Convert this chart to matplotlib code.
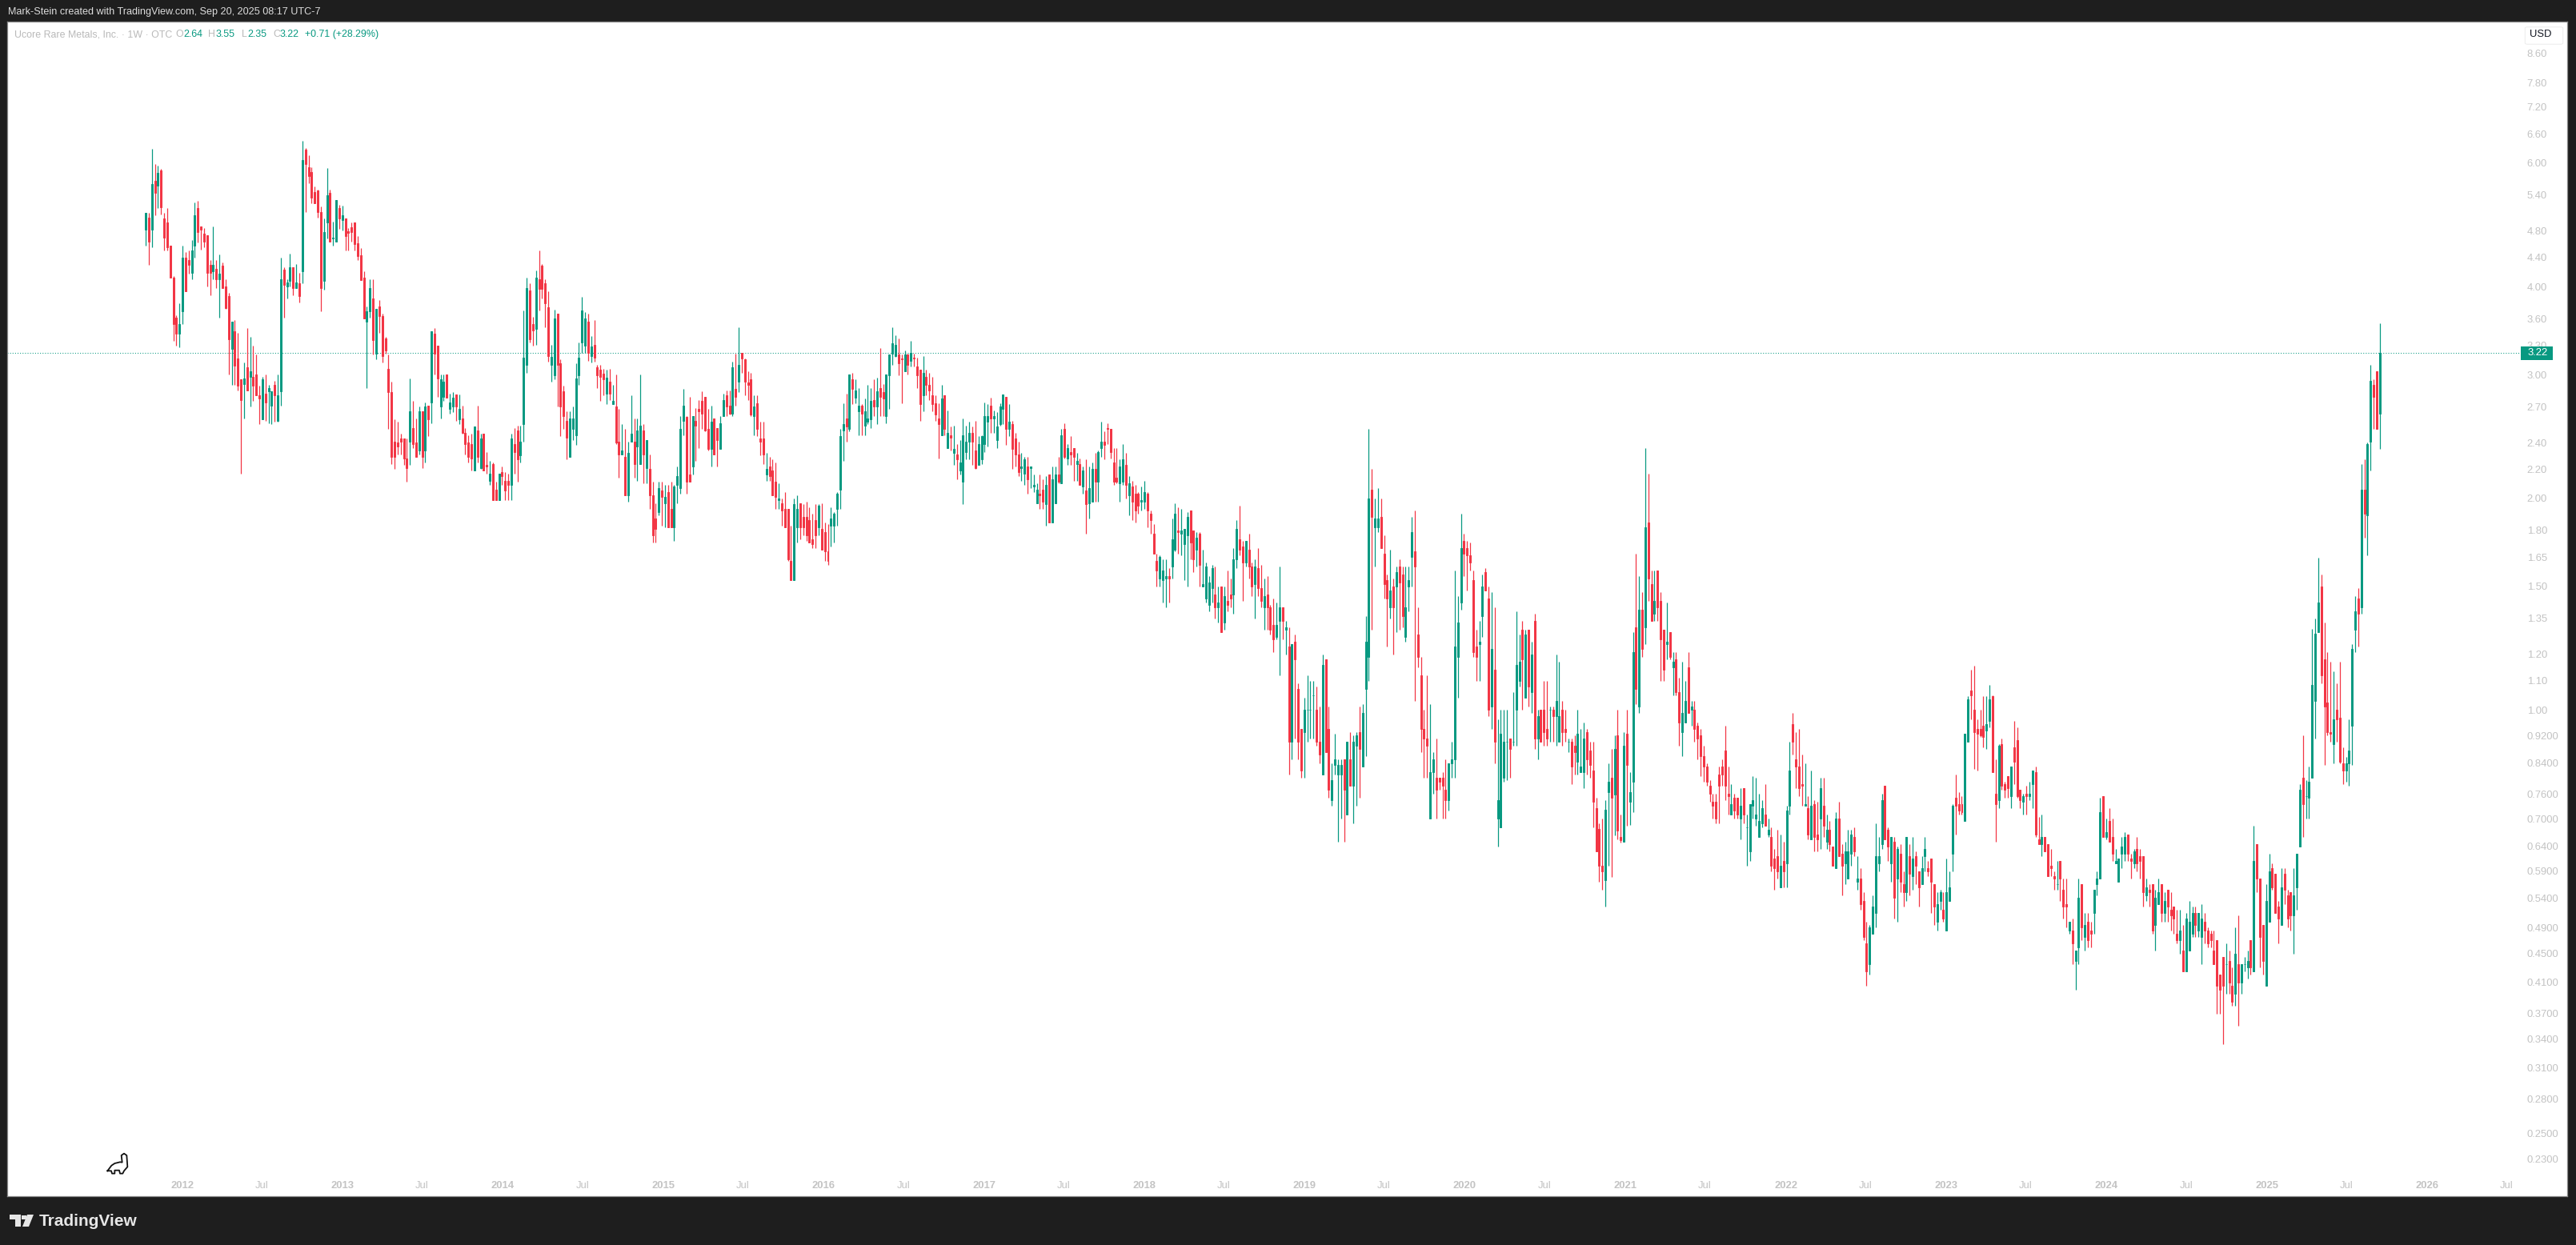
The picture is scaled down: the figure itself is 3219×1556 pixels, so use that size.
import numpy as np
import matplotlib
matplotlib.use("Agg")
import matplotlib.pyplot as plt
from matplotlib.patches import Rectangle, FancyBboxPatch, Polygon
from matplotlib.lines import Line2D
import datetime as dt

# Weekly candles, 13 to a block (quarter), oldest first
o0=[4.82,5.02,4.82,5.66,5.57,5.86,5.00,4.94,4.57,4.12,3.61,3.43,3.69]
h0=[5.09,5.09,6.29,5.97,5.94,5.88,5.09,5.18,4.57,4.14,3.64,3.79,4.58]
l0=[4.57,4.30,4.55,5.05,5.18,5.07,4.50,4.50,4.12,3.35,3.30,3.28,3.54]
c0=[5.09,4.63,5.60,5.44,5.80,5.19,4.70,4.55,4.12,3.54,3.43,3.54,4.40]
o1=[4.40,4.36,4.19,4.57,5.18,4.87,4.76,4.74,4.30,4.21,4.24,4.10,4.28]
h1=[4.48,4.50,4.66,5.27,5.30,4.87,4.85,4.74,4.36,4.87,4.36,4.44,4.33]
l1=[3.94,4.17,4.10,4.40,4.62,4.52,4.55,4.00,3.89,4.10,3.98,3.61,3.98]
c1=[3.94,4.30,4.50,5.05,4.79,4.82,4.64,4.19,4.19,4.30,4.10,4.17,3.98]
o2=[4.00,3.88,3.26,3.46,3.16,2.95,2.91,3.07,2.98,2.98,3.00,2.80,2.59]
h2=[4.10,3.92,3.57,3.59,3.44,2.95,3.12,3.49,3.39,3.30,3.20,2.89,2.98]
l2=[3.72,3.00,2.90,2.90,2.85,2.17,2.60,2.85,2.70,2.75,2.80,2.55,2.59]
c2=[3.73,3.37,3.57,3.09,2.89,2.76,2.96,2.85,3.03,2.89,2.80,2.77,2.95]
o3=[2.82,2.84,2.71,2.90,2.58,2.84,4.23,4.00,4.08,4.26,3.98,4.04,4.21]
h3=[3.00,2.90,2.84,2.94,3.00,4.40,4.26,4.10,4.46,4.26,4.31,4.19,6.45]
l3=[2.58,2.56,2.55,2.57,2.57,2.71,3.61,3.85,4.00,3.89,3.98,3.80,4.05]
c3=[2.74,2.87,2.84,2.80,2.80,4.10,4.02,4.06,4.26,3.98,4.06,3.88,6.06]
o4=[6.27,5.91,5.83,5.45,5.48,5.11,4.08,4.94,5.44,4.69,4.63,5.18,4.97]
h4=[6.30,6.15,5.91,5.55,5.49,5.20,5.00,5.90,5.50,4.95,5.31,5.23,5.22]
l4=[5.11,5.62,5.26,5.26,5.02,3.69,3.96,4.68,4.63,4.57,4.63,4.84,4.81]
c4=[5.98,5.75,5.36,5.26,5.11,3.98,4.79,5.40,4.63,4.70,5.31,5.00,5.06]
o5=[5.00,4.80,4.86,4.94,4.61,4.43,4.12,3.57,3.69,3.85,3.21,3.75,3.63]
h5=[5.00,4.85,4.94,4.94,4.72,4.54,4.21,3.75,4.10,4.10,3.72,3.83,3.66]
l5=[4.50,4.50,4.64,4.50,4.37,4.09,3.60,2.87,3.61,3.20,3.15,3.44,3.12]
c5=[4.72,4.77,4.79,4.60,4.42,4.09,3.60,3.69,3.98,3.36,3.72,3.63,3.19]
o6=[3.38,3.06,2.83,2.41,2.40,2.43,2.43,2.28,2.41,2.52,2.40,2.34,2.66]
h6=[3.39,3.20,2.93,2.59,2.57,2.47,2.43,2.43,2.96,2.75,2.60,2.70,2.66]
l6=[3.21,2.51,2.24,2.20,2.31,2.31,2.23,2.11,2.23,2.36,2.29,2.31,2.21]
c6=[3.25,2.83,2.29,2.29,2.37,2.41,2.28,2.21,2.66,2.39,2.29,2.66,2.29]
o7=[2.34,2.71,2.74,3.43,3.30,2.70,2.79,3.00,2.68,2.70,2.81,2.59,2.60]
h7=[2.74,2.71,3.46,3.49,3.30,3.00,3.00,3.00,2.82,2.83,2.81,2.81,2.71]
l7=[2.25,2.45,2.56,3.00,2.79,2.60,2.75,2.78,2.64,2.65,2.58,2.55,2.47]
c7=[2.70,2.59,3.46,3.21,2.96,2.95,2.93,2.78,2.74,2.78,2.70,2.68,2.48]
o8=[2.48,2.40,2.39,2.19,2.50,2.21,2.47,2.23,2.12,2.24,2.06,1.99,2.18]
h8=[2.52,2.46,2.47,2.53,2.71,2.47,2.47,2.33,2.26,2.25,2.11,2.17,2.22]
l8=[2.31,2.25,2.19,2.19,2.25,2.20,2.19,2.17,2.09,1.99,1.99,1.99,2.09]
c8=[2.39,2.29,2.28,2.53,2.29,2.43,2.19,2.22,2.17,1.99,1.99,2.17,2.15]
o9=[2.12,2.12,2.09,2.39,2.50,2.30,2.55,3.10,3.95,3.54,3.48,4.10,4.29]
h9=[2.18,2.17,2.47,2.52,2.54,2.54,3.70,4.12,4.05,3.62,4.22,4.50,4.31]
l9=[1.99,1.99,1.99,2.17,2.11,2.25,2.41,3.02,3.33,3.30,3.31,3.70,3.85]
c9=[2.05,2.09,2.43,2.33,2.27,2.41,3.17,3.98,3.37,3.47,4.12,3.97,3.97]
o10=[4.04,3.74,3.10,2.99,3.66,3.11,2.84,2.58,2.29,2.51,2.46,2.99,3.33]
h10=[4.10,3.94,3.31,3.71,3.66,3.15,2.89,2.66,2.66,2.70,3.11,3.33,3.87]
l10=[3.50,3.13,2.93,2.95,2.70,2.45,2.51,2.27,2.29,2.42,2.38,2.90,3.22]
c10=[3.79,3.19,3.18,3.60,3.10,2.70,2.62,2.44,2.60,2.60,2.96,3.17,3.70]
o11=[3.30,3.57,3.19,3.31,3.07,3.05,3.01,2.82,2.93,2.72,2.70,2.41,2.31]
h11=[3.68,3.66,3.40,3.585,3.10,3.10,3.06,3.05,3.06,2.90,3.00,2.68,2.55]
l11=[3.22,3.14,3.12,3.13,2.87,2.75,2.80,2.72,2.76,2.72,2.39,2.14,2.31]
c11=[3.60,3.22,3.29,3.17,2.99,2.98,2.95,2.97,2.82,2.75,2.40,2.31,2.34]
o12=[2.29,2.02,2.41,2.41,2.37,2.24,2.50,2.21,2.20,2.02,1.87,1.91,2.05]
h12=[2.51,2.41,2.80,2.60,2.60,3.00,2.55,2.42,2.31,2.11,1.97,2.11,2.11]
l12=[2.02,1.98,2.41,2.14,2.12,2.24,2.10,2.10,1.93,1.73,1.73,1.89,1.83]
c12=[2.02,2.32,2.47,2.24,2.50,2.54,2.31,2.42,2.02,1.77,1.81,2.07,2.01]
o13=[1.97,2.04,1.93,1.82,2.09,2.07,2.58,2.61,2.16,2.22,2.58,2.68,2.75]
h13=[2.09,2.09,2.11,2.09,2.22,2.62,2.86,2.62,2.79,2.62,2.69,2.76,2.84]
l13=[1.82,1.82,1.82,1.74,1.97,2.03,2.46,2.03,2.11,2.16,2.26,2.36,2.51]
c13=[2.01,1.82,1.82,2.08,2.15,2.51,2.71,2.11,2.11,2.62,2.54,2.66,2.64]
o14=[2.79,2.51,2.35,2.60,2.52,2.35,2.62,2.80,2.71,2.64,2.86,2.93,3.22]
h14=[2.79,2.68,2.71,2.60,2.52,2.62,2.82,2.85,2.85,3.13,3.21,3.50,3.22]
l14=[2.49,2.34,2.22,2.31,2.22,2.35,2.62,2.62,2.63,2.62,2.71,2.83,3.02]
c14=[2.50,2.35,2.57,2.31,2.42,2.56,2.76,2.70,2.64,3.07,2.79,3.10,3.16]
o15=[3.15,2.92,2.95,2.62,2.73,2.43,2.43,2.16,2.22,2.19,2.11,1.99,1.97]
h15=[3.16,3.03,3.02,2.80,2.80,2.57,2.57,2.32,2.29,2.27,2.25,2.10,2.00]
l15=[2.80,2.76,2.62,2.46,2.45,2.30,2.24,2.12,2.12,2.02,1.93,1.93,1.83]
c15=[2.93,2.90,2.63,2.70,2.51,2.41,2.31,2.20,2.15,2.02,2.01,2.00,1.92]
o16=[1.93,1.93,1.63,1.53,1.82,1.97,1.88,1.88,1.86,1.75,1.86,1.82,1.81]
h16=[2.04,1.93,1.83,2.00,2.02,1.97,1.96,1.98,1.94,1.90,1.96,1.96,1.97]
l16=[1.82,1.63,1.53,1.53,1.73,1.75,1.77,1.74,1.73,1.70,1.70,1.77,1.69]
c16=[1.82,1.64,1.53,1.96,1.93,1.82,1.82,1.77,1.73,1.72,1.77,1.95,1.69]
o17=[1.79,1.68,1.83,1.83,1.93,2.06,2.50,2.60,2.51,2.95,2.78,2.66,2.71]
h17=[1.85,1.84,1.94,1.91,2.04,2.51,2.73,2.82,3.00,3.02,2.95,2.87,2.72]
l17=[1.63,1.61,1.71,1.73,1.83,1.93,2.26,2.41,2.49,2.72,2.73,2.46,2.46]
c17=[1.68,1.63,1.87,1.90,2.03,2.45,2.55,2.53,3.00,2.86,2.85,2.71,2.64]
o18=[2.54,2.57,2.59,2.76,2.70,2.87,2.83,2.62,2.99,3.21,3.19,3.20,3.16]
h18=[2.77,2.90,2.87,2.95,2.97,3.27,2.91,3.00,3.20,3.50,3.41,3.38,3.20]
l18=[2.46,2.55,2.52,2.62,2.55,2.62,2.62,2.56,2.68,3.10,3.18,2.99,2.73]
c18=[2.66,2.60,2.75,2.70,2.84,2.79,2.77,3.00,3.20,3.32,3.31,3.11,3.15]
o19=[3.03,3.20,3.14,3.17,3.08,3.05,2.80,2.98,2.90,2.80,2.73,2.60,2.46]
h19=[3.25,3.21,3.35,3.21,3.17,3.05,3.19,3.05,3.02,2.98,2.80,2.73,2.90]
l19=[3.03,3.00,3.08,3.08,2.87,2.58,2.66,2.80,2.76,2.66,2.58,2.28,2.46]
c19=[3.20,3.10,3.22,3.16,2.99,2.72,3.02,2.90,2.85,2.72,2.63,2.55,2.77]
o20=[2.80,2.36,2.46,2.32,2.31,2.19,2.11,2.33,2.41,2.48,2.34,2.23,2.27]
h20=[2.80,2.67,2.53,2.54,2.39,2.42,2.60,2.54,2.57,2.53,2.58,2.45,2.46]
l20=[2.46,2.36,2.34,2.23,2.13,2.16,1.96,2.27,2.27,2.23,2.20,2.23,2.24]
c20=[2.51,2.48,2.44,2.35,2.27,2.25,2.46,2.41,2.48,2.41,2.21,2.39,2.45]
o21=[2.39,2.57,2.71,2.60,2.42,2.55,2.68,2.79,2.51,2.55,2.43,2.31,2.21]
h21=[2.74,2.72,2.78,2.67,2.65,2.73,2.81,2.79,2.72,2.58,2.48,2.41,2.32]
l21=[2.33,2.37,2.48,2.48,2.36,2.54,2.55,2.38,2.45,2.20,2.22,2.15,2.12]
c21=[2.62,2.62,2.60,2.62,2.53,2.70,2.81,2.51,2.57,2.35,2.31,2.18,2.22]
o22=[2.17,2.22,2.21,2.08,1.97,2.03,2.06,1.96,2.16,1.85,1.97,2.16,2.10]
h22=[2.29,2.29,2.22,2.16,2.10,2.16,2.13,2.15,2.16,2.22,2.22,2.29,2.51]
l22=[2.09,2.03,2.07,2.04,1.97,1.93,1.93,1.83,1.85,1.85,1.97,2.10,2.10]
c22=[2.27,2.13,2.22,2.09,2.06,2.02,1.98,2.09,1.85,2.13,2.16,2.11,2.46]
o23=[2.51,2.28,2.33,2.36,2.24,2.24,2.08,2.05,1.97,1.98,2.20,2.11,2.36]
h23=[2.56,2.39,2.45,2.36,2.32,2.28,2.22,2.27,2.22,2.25,2.32,2.34,2.57]
l23=[2.28,2.23,2.23,2.12,2.12,2.09,2.03,1.78,1.87,1.98,1.98,1.98,2.29]
c23=[2.29,2.36,2.31,2.29,2.26,2.09,2.19,1.96,2.07,2.20,2.11,2.33,2.41]
o24=[2.41,2.52,2.51,2.25,2.14,2.10,2.11,2.23,2.02,2.08,2.03,2.03,1.98]
h24=[2.49,2.56,2.51,2.36,2.36,2.27,2.39,2.32,2.15,2.12,2.09,2.04,2.08]
l24=[2.27,2.39,2.28,2.09,2.10,1.98,2.09,2.00,1.89,1.86,1.85,1.90,1.92]
c24=[2.38,2.51,2.33,2.11,2.11,2.22,2.27,2.09,2.10,1.98,1.92,1.95,1.99]
o25=[1.98,2.03,1.90,1.78,1.63,1.54,1.53,1.54,1.55,1.60,1.69,1.80,1.78]
h25=[2.12,2.04,1.92,1.84,1.67,1.66,1.64,1.64,1.59,1.87,1.97,1.94,1.93]
l25=[1.93,1.82,1.78,1.67,1.50,1.50,1.42,1.40,1.42,1.54,1.68,1.67,1.66]
c25=[2.04,1.92,1.86,1.67,1.58,1.65,1.58,1.55,1.54,1.75,1.90,1.79,1.80]
o26=[1.72,1.77,1.92,1.80,1.69,1.78,1.50,1.44,1.41,1.49,1.46,1.40,1.50]
h26=[1.81,1.91,1.92,1.80,1.79,1.79,1.69,1.62,1.55,1.61,1.60,1.50,1.50]
l26=[1.53,1.50,1.64,1.57,1.60,1.50,1.50,1.42,1.38,1.42,1.35,1.33,1.29]
c26=[1.81,1.88,1.73,1.64,1.76,1.61,1.51,1.60,1.52,1.59,1.40,1.42,1.29]
o27=[1.33,1.43,1.46,1.46,1.64,1.75,1.71,1.62,1.69,1.60,1.51,1.59,1.49]
h27=[1.50,1.58,1.54,1.70,1.86,1.95,1.74,1.74,1.78,1.62,1.64,1.70,1.61]
l27=[1.30,1.38,1.40,1.37,1.59,1.66,1.43,1.60,1.54,1.45,1.35,1.45,1.40]
c27=[1.45,1.41,1.44,1.64,1.81,1.69,1.62,1.74,1.60,1.50,1.60,1.49,1.43]
o28=[1.40,1.46,1.40,1.32,1.27,1.34,1.40,1.30,1.23,0.90,1.25,1.07,0.94]
h28=[1.54,1.55,1.41,1.44,1.42,1.60,1.40,1.34,1.31,1.24,1.28,1.09,0.94]
l28=[1.30,1.30,1.28,1.21,1.26,1.12,1.26,1.20,0.81,0.85,0.91,0.85,0.80]
c28=[1.45,1.40,1.30,1.26,1.32,1.40,1.34,1.31,0.90,1.24,1.18,0.90,0.82]
o29=[0.93,1.00,1.00,1.05,1.00,0.90,0.81,1.18,0.94,0.745,0.835,0.81,0.81]
h29=[1.04,1.12,1.10,1.10,1.08,1.01,1.20,1.18,1.01,0.84,0.925,0.85,0.85]
l29=[0.80,0.90,0.91,0.91,0.89,0.84,0.81,0.87,0.75,0.73,0.81,0.65,0.70]
c29=[1.00,1.00,1.00,1.05,0.90,0.865,1.16,0.87,0.77,0.795,0.85,0.835,0.835]
o30=[0.85,0.71,0.85,0.78,0.89,0.93,0.83,1.07,1.19,2.06,1.82,1.82,1.88]
h30=[0.85,0.90,0.93,0.92,0.93,1.01,1.02,1.36,2.51,2.20,2.00,2.07,2.00]
l30=[0.65,0.71,0.78,0.69,0.73,0.75,0.83,0.86,1.10,1.30,1.60,1.79,1.70]
c30=[0.77,0.90,0.78,0.90,0.92,0.88,0.99,1.25,2.00,1.88,1.87,1.87,1.70]
o31=[1.67,1.53,1.40,1.50,1.50,1.60,1.56,1.27,1.50,1.65,1.68,1.28,1.12]
h31=[1.77,1.56,1.69,1.54,1.60,1.64,1.60,1.60,1.60,1.88,1.92,1.40,1.19]
l31=[1.44,1.23,1.35,1.20,1.29,1.30,1.31,1.25,1.38,1.50,1.03,1.15,0.87]
c31=[1.51,1.44,1.48,1.40,1.57,1.52,1.36,1.40,1.53,1.79,1.60,1.19,0.94]
o32=[0.94,0.91,0.70,0.815,0.80,0.80,0.80,0.77,0.745,0.84,0.85,1.19,1.42]
h32=[1.00,1.12,1.02,0.87,0.91,0.80,0.815,0.85,0.84,0.90,1.58,1.45,1.90]
l32=[0.80,0.80,0.70,0.76,0.70,0.77,0.70,0.70,0.72,0.80,0.80,1.04,1.39]
c32=[0.91,0.89,0.815,0.85,0.77,0.79,0.78,0.745,0.84,0.85,1.23,1.33,1.70]
o33=[1.74,1.70,1.66,1.53,1.23,1.24,1.36,1.57,1.44,1.01,1.14,0.70,0.68]
h33=[1.78,1.74,1.73,1.58,1.30,1.34,1.56,1.59,1.50,1.47,1.40,0.97,1.00]
l33=[1.55,1.48,1.58,1.19,1.10,1.10,1.27,1.48,0.98,0.94,0.84,0.64,0.68]
c33=[1.67,1.66,1.62,1.21,1.19,1.25,1.50,1.48,1.00,1.22,0.90,0.745,0.925]
o34=[0.80,0.90,0.91,0.90,1.00,1.10,1.30,1.04,1.30,1.06,1.34,0.91,1.00]
h34=[1.00,1.00,0.91,1.06,1.38,1.28,1.34,1.30,1.30,1.25,1.37,1.00,1.00]
l34=[0.79,0.795,0.80,0.89,0.89,1.08,1.00,1.04,1.01,0.99,0.88,0.85,0.90]
c34=[0.90,0.90,0.88,0.90,1.16,1.17,1.18,1.28,1.08,1.20,0.91,0.98,0.90]
o35=[1.00,0.94,1.00,1.00,0.98,0.90,1.00,0.94,0.90,0.90,0.89,0.845,0.815]
h35=[1.10,1.10,1.01,1.01,1.20,1.17,1.03,1.00,0.91,0.91,0.92,1.00,0.94]
l35=[0.89,0.89,0.90,0.90,0.89,0.90,0.89,0.90,0.87,0.785,0.81,0.81,0.815]
c35=[0.93,0.91,1.00,0.98,1.03,0.98,0.93,0.93,0.90,0.83,0.87,0.925,0.83]
o36=[0.815,0.93,0.875,0.82,0.725,0.677,0.60,0.572,0.765,0.80,0.758,0.92,0.66]
h36=[0.96,0.94,0.90,0.90,0.751,0.69,0.70,0.745,0.84,0.88,0.92,1.00,0.71]
l36=[0.775,0.81,0.80,0.68,0.63,0.57,0.555,0.525,0.60,0.578,0.664,0.655,0.648]
c36=[0.91,0.85,0.835,0.74,0.63,0.60,0.59,0.721,0.79,0.75,0.88,0.674,0.652]
o37=[0.65,0.925,0.74,0.79,1.31,1.01,1.39,1.31,1.85,1.51,1.37,1.58,1.43]
h37=[0.93,1.00,0.815,1.29,1.67,1.55,1.47,2.36,2.17,1.58,1.58,1.58,1.47]
l37=[0.65,0.685,0.687,0.715,1.02,0.99,1.19,1.24,1.43,1.34,1.34,1.34,1.10]
c37=[0.89,0.835,0.765,1.21,1.07,1.39,1.22,1.82,1.54,1.34,1.43,1.40,1.26]
o38=[1.30,1.24,1.29,1.15,1.18,1.06,0.93,0.96,1.15,1.00,1.00,0.95,0.92]
h38=[1.30,1.42,1.29,1.21,1.21,1.11,1.17,1.10,1.21,1.03,1.03,0.96,0.94]
l38=[1.10,1.18,1.18,1.05,1.05,0.89,0.86,0.96,0.99,0.95,0.90,0.85,0.805]
c38=[1.14,1.25,1.19,1.17,1.06,0.96,0.99,1.03,0.99,1.01,0.94,0.91,0.86]
o39=[0.86,0.83,0.78,0.74,0.74,0.81,0.83,0.875,0.76,0.71,0.75,0.75,0.70]
h39=[0.89,0.84,0.795,0.76,0.76,0.83,0.85,0.95,0.83,0.785,0.76,0.75,0.775]
l39=[0.79,0.78,0.74,0.70,0.69,0.69,0.78,0.745,0.71,0.71,0.70,0.70,0.655]
c39=[0.83,0.79,0.76,0.73,0.70,0.78,0.81,0.78,0.755,0.735,0.72,0.71,0.73]
o40=[0.775,0.68,0.63,0.73,0.70,0.66,0.69,0.71,0.665,0.66,0.615,0.62,0.56]
h40=[0.775,0.71,0.735,0.805,0.80,0.76,0.745,0.785,0.70,0.68,0.635,0.675,0.665]
l40=[0.69,0.60,0.61,0.70,0.685,0.66,0.68,0.685,0.66,0.59,0.555,0.575,0.56]
c40=[0.71,0.68,0.735,0.745,0.71,0.695,0.725,0.685,0.675,0.60,0.595,0.59,0.60]
o41=[0.61,0.605,0.73,0.955,0.85,0.83,0.785,0.73,0.725,0.655,0.735,0.665,0.70]
h41=[0.65,0.73,0.90,0.99,0.93,0.94,0.865,0.84,0.755,0.82,0.745,0.74,0.80]
l41=[0.56,0.56,0.71,0.865,0.775,0.755,0.73,0.73,0.655,0.655,0.63,0.63,0.635]
c41=[0.59,0.72,0.82,0.90,0.83,0.775,0.78,0.735,0.665,0.73,0.66,0.655,0.775]
o42=[0.73,0.65,0.675,0.64,0.595,0.70,0.625,0.605,0.575,0.625,0.66,0.57,0.575]
h42=[0.80,0.71,0.695,0.64,0.715,0.74,0.645,0.65,0.675,0.675,0.68,0.62,0.595]
l42=[0.66,0.635,0.63,0.60,0.595,0.62,0.545,0.565,0.575,0.60,0.62,0.555,0.52]
c42=[0.685,0.675,0.645,0.60,0.70,0.62,0.60,0.63,0.63,0.665,0.63,0.575,0.53]
o43=[0.535,0.465,0.435,0.48,0.515,0.605,0.645,0.78,0.675,0.605,0.65,0.575,0.625]
h43=[0.55,0.50,0.495,0.545,0.69,0.66,0.76,0.78,0.68,0.66,0.66,0.64,0.645]
l43=[0.47,0.405,0.42,0.48,0.49,0.59,0.635,0.655,0.61,0.57,0.505,0.50,0.55]
c43=[0.475,0.425,0.49,0.525,0.62,0.62,0.745,0.655,0.64,0.66,0.54,0.635,0.57]
o44=[0.565,0.55,0.62,0.58,0.62,0.59,0.565,0.62,0.595,0.615,0.565,0.50,0.535]
h44=[0.59,0.66,0.645,0.66,0.63,0.59,0.62,0.66,0.61,0.615,0.565,0.55,0.555]
l44=[0.525,0.535,0.545,0.555,0.565,0.525,0.565,0.59,0.58,0.515,0.495,0.485,0.52]
c44=[0.55,0.66,0.585,0.615,0.60,0.56,0.595,0.635,0.59,0.57,0.525,0.53,0.55]
o45=[0.52,0.485,0.535,0.625,0.75,0.735,0.735,0.695,0.90,1.065,1.00,0.94,0.94]
h45=[0.55,0.615,0.59,0.735,0.81,0.765,0.755,0.925,1.045,1.14,1.155,0.97,1.00]
l45=[0.50,0.485,0.535,0.59,0.665,0.71,0.71,0.695,0.90,0.97,0.825,0.82,0.915]
c45=[0.505,0.55,0.56,0.73,0.73,0.72,0.715,0.925,1.035,1.05,0.93,0.925,0.92]
o46=[0.95,0.935,0.965,1.045,0.76,0.745,0.895,0.785,0.805,0.755,0.885,0.905,0.77]
h46=[1.045,1.045,1.085,1.05,0.85,0.895,0.91,0.79,0.805,0.83,0.965,0.945,0.77]
l46=[0.885,0.88,0.945,0.815,0.65,0.725,0.77,0.75,0.75,0.725,0.785,0.75,0.725]
c46=[0.915,0.955,1.035,0.815,0.735,0.89,0.78,0.77,0.775,0.83,0.845,0.755,0.745]
o47=[0.74,0.76,0.755,0.785,0.815,0.655,0.645,0.66,0.645,0.60,0.58,0.565,0.61]
h47=[0.76,0.78,0.79,0.82,0.83,0.705,0.71,0.66,0.645,0.635,0.59,0.61,0.61]
l47=[0.71,0.71,0.745,0.725,0.66,0.645,0.62,0.63,0.58,0.58,0.555,0.555,0.535]
c47=[0.755,0.755,0.76,0.82,0.665,0.645,0.66,0.63,0.58,0.595,0.575,0.565,0.575]
o48=[0.555,0.53,0.485,0.485,0.44,0.46,0.565,0.475,0.50,0.485,0.515,0.565,0.575]
h48=[0.575,0.575,0.50,0.505,0.455,0.575,0.565,0.515,0.515,0.50,0.555,0.59,0.75]
l48=[0.505,0.49,0.48,0.435,0.40,0.435,0.47,0.455,0.46,0.46,0.48,0.545,0.575]
c48=[0.525,0.525,0.50,0.465,0.455,0.54,0.49,0.495,0.47,0.48,0.555,0.575,0.715]
o49=[0.755,0.66,0.695,0.66,0.605,0.57,0.625,0.625,0.665,0.615,0.605,0.635,0.62]
h49=[0.755,0.70,0.725,0.70,0.635,0.615,0.66,0.67,0.665,0.625,0.635,0.66,0.635]
l49=[0.66,0.655,0.65,0.61,0.605,0.57,0.595,0.61,0.61,0.575,0.595,0.59,0.575]
c49=[0.66,0.67,0.65,0.625,0.61,0.615,0.64,0.66,0.625,0.61,0.63,0.605,0.61]
o50=[0.62,0.545,0.555,0.565,0.495,0.53,0.565,0.515,0.555,0.52,0.525,0.48,0.47]
h50=[0.62,0.575,0.565,0.565,0.555,0.575,0.565,0.55,0.555,0.55,0.525,0.52,0.52]
l50=[0.525,0.535,0.525,0.48,0.455,0.53,0.50,0.50,0.50,0.485,0.48,0.465,0.45]
c50=[0.55,0.56,0.55,0.485,0.54,0.55,0.515,0.535,0.525,0.51,0.505,0.47,0.485]
o51=[0.455,0.425,0.455,0.48,0.515,0.485,0.475,0.50,0.485,0.48,0.455,0.47,0.42]
h51=[0.495,0.515,0.535,0.525,0.525,0.515,0.53,0.515,0.49,0.485,0.485,0.47,0.42]
l51=[0.425,0.425,0.455,0.475,0.475,0.475,0.435,0.465,0.46,0.46,0.435,0.37,0.37]
c51=[0.425,0.505,0.50,0.515,0.495,0.515,0.505,0.485,0.465,0.47,0.435,0.405,0.40]
o52=[0.445,0.435,0.44,0.405,0.395,0.435,0.41,0.435,0.43,0.47,0.425,0.645,0.575]
h52=[0.445,0.465,0.455,0.43,0.49,0.51,0.435,0.445,0.455,0.47,0.685,0.645,0.575]
l52=[0.335,0.395,0.395,0.38,0.38,0.355,0.395,0.425,0.415,0.42,0.425,0.55,0.43]
c52=[0.405,0.435,0.41,0.385,0.45,0.41,0.435,0.435,0.44,0.43,0.61,0.575,0.475]
o53=[0.495,0.405,0.50,0.595,0.585,0.525,0.495,0.585,0.545,0.55,0.51,0.56,0.64]
h53=[0.495,0.565,0.625,0.605,0.585,0.535,0.595,0.595,0.555,0.55,0.595,0.625,0.785]
l53=[0.42,0.405,0.50,0.555,0.515,0.465,0.495,0.53,0.49,0.485,0.45,0.52,0.64]
c53=[0.44,0.535,0.59,0.56,0.515,0.505,0.56,0.555,0.505,0.51,0.545,0.625,0.77]
o54=[0.80,0.755,0.75,0.80,1.03,1.29,1.50,1.18,1.025,0.93,0.895,1.00,0.975]
h54=[0.92,0.795,0.83,1.305,1.35,1.645,1.56,1.33,1.21,1.17,1.135,1.09,1.17]
l54=[0.66,0.70,0.70,0.80,0.91,1.29,1.09,0.835,0.92,0.90,0.84,0.90,0.84]
c54=[0.735,0.755,0.79,1.085,1.285,1.42,1.12,1.01,0.93,0.925,0.97,0.97,0.845]
o55=[0.84,0.82,0.84,0.95,1.30,1.44,1.40,2.06,1.89,2.41,2.90,3.03,2.64]
h55=[0.885,0.858,0.97,1.24,1.45,1.49,2.24,2.27,2.40,3.10,2.95,3.03,3.55]
l55=[0.785,0.79,0.78,0.835,1.21,1.23,1.37,1.76,1.66,2.19,2.51,2.51,2.35]
c55=[0.82,0.84,0.875,1.22,1.38,1.37,2.06,1.90,2.39,2.94,2.79,2.51,3.22]

first_week = dt.date(2011, 10, 10)
BLOCK = 13
N_BLOCKS = 56
last_price = 3.22

price_ticks = [8.60,7.80,7.20,6.60,6.00,5.40,4.80,4.40,4.00,3.60,3.30,3.00,2.70,2.40,2.20,2.00,1.80,
               1.65,1.50,1.35,1.20,1.10,1.00,0.92,0.84,0.76,0.70,0.64,0.59,0.54,0.49,0.45,0.41,0.37,
               0.34,0.31,0.28,0.25,0.23]
price_labels = ["8.60","7.80","7.20","6.60","6.00","5.40","4.80","4.40","4.00","3.60","3.30","3.00",
                "2.70","2.40","2.20","2.00","1.80","1.65","1.50","1.35","1.20","1.10","1.00","0.9200",
                "0.8400","0.7600","0.7000","0.6400","0.5900","0.5400","0.4900","0.4500","0.4100",
                "0.3700","0.3400","0.3100","0.2800","0.2500","0.2300"]
years = list(range(2012, 2027))

UP, DOWN = "#089981", "#f23645"
W, H = 3219, 1556
BG = "#1e1e1e"
FONT = ["Liberation Sans", "DejaVu Sans"]
plt.rcParams["font.family"] = FONT

def fx(x): return x / W
def fy(y): return 1 - y / H

fig = plt.figure(figsize=(W/100, H/100), dpi=100, facecolor=BG)
ax = fig.add_axes([fx(9), fy(1495), fx(3208)-fx(9), fy(27)-fy(1495)], facecolor="white")
ax.set_yscale("log")
ax.set_xlim(-45.05, 788)
ax.set_ylim(0.2034, 9.53)
for s in ax.spines.values():
    s.set_color("#8a8a8a"); s.set_linewidth(0.9)

# candles
gl = globals()
for k in range(N_BLOCKS):
    for j, (o, hi, lo, c) in enumerate(zip(gl[f"o{k}"], gl[f"h{k}"], gl[f"l{k}"], gl[f"c{k}"])):
        i = k * BLOCK + j
        col = UP if c >= o else DOWN
        ax.vlines(i, min(lo, o, c), max(hi, o, c), color=col, lw=0.9, zorder=2)
        ax.bar(i, abs(c - o), bottom=min(o, c), width=0.52, color=col, edgecolor=col, linewidth=0.72, zorder=3)

# last price line
ax.axhline(last_price, color=UP, lw=0.75, ls=(0, (1, 2)), zorder=1, xmax=(3150-9)/(3208-9))

# y tick labels inside on right
ax.minorticks_off()
ax.yaxis.tick_right()
ax.set_yticks(price_ticks)
ax.set_yticklabels(price_labels)
ax.yaxis.set_minor_locator(matplotlib.ticker.NullLocator())
ax.tick_params(axis="y", length=0, pad=-36.2, labelsize=9.4, labelcolor="#c3c3c3")
for t in ax.get_yticklabels():
    t.set_ha("left")

# x tick labels inside at bottom
xt, xl, xb = [], [], []
for y in years:
    xt.append((dt.date(y, 1, 1) - first_week).days / 7); xl.append(str(y)); xb.append(True)
    xt.append((dt.date(y, 7, 1) - first_week).days / 7); xl.append("Jul"); xb.append(False)
ax.set_xticks(xt)
ax.set_xticklabels(xl)
ax.tick_params(axis="x", length=0, pad=-13.5, labelsize=9.4, labelcolor="#c3c3c3")
for t, b in zip(ax.get_xticklabels(), xb):
    if b:
        t.set_fontweight("bold")

# header
fig.text(fx(10), fy(15), "Mark-Stein created with TradingView.com, Sep 20, 2025 08:17 UTC-7",
         color="#dcdcdc", fontsize=9.1, va="center", ha="left")
legend_y = fy(43)
G = "#b9b9b9"
for x, s, c in [(18, "Ucore Rare Metals, Inc. · 1W · OTC", G), (219, "O", G), (229, "2.64", UP),
                (260, "H", G), (270, "3.55", UP), (302, "L", G), (309, "2.35", UP),
                (341, "C", G), (350, "3.22", UP), (381, "+0.71 (+28.29%)", UP)]:
    fig.text(fx(x), legend_y, s, color=c, fontsize=8.9, va="center", ha="left")

# USD box
fig.add_artist(FancyBboxPatch((fx(3156), fy(55)), fx(46), fy(34)-fy(55),
                              boxstyle="round,pad=0.0002,rounding_size=0.001", transform=fig.transFigure,
                              facecolor="white", edgecolor="#eeeeee", linewidth=0.8, zorder=5))
fig.text(fx(3175), fy(43.5), "USD", color="#131722", fontsize=9.4, va="center", ha="center", zorder=6)

# last price tag
fig.add_artist(Rectangle((fx(3150), fy(450)), fx(40), fy(433)-fy(450), transform=fig.transFigure,
                         facecolor=UP, edgecolor="none", zorder=5))
fig.text(fx(3171), fy(441.5), "3.22", color="white", fontsize=9.4, va="center", ha="center", zorder=6)

# dinosaur mark
dino = [(103,130),(118,110),(130,102),(150,97),(158,98),(155,72),(165,65),(175,72),(178,115),(165,130),
        (160,140),(150,140),(147,128),(130,128),(130,140),(120,140),(117,130),(103,130)]
fig.add_artist(Line2D([fx(100+a/3) for a, b in dino], [fy(1420+b/3) for a, b in dino],
                      transform=fig.transFigure, color="#111111", lw=1.3, zorder=6))

# footer logo
LOGO = "#e6e6e6"
fig.add_artist(Polygon([(fx(12),fy(1518)),(fx(26),fy(1518)),(fx(26),fy(1533)),(fx(19),fy(1533)),(fx(19),fy(1524)),(fx(12),fy(1524))],
                       closed=True, transform=fig.transFigure, facecolor=LOGO, edgecolor="none"))
fig.add_artist(Polygon([(fx(34),fy(1518)),(fx(42),fy(1518)),(fx(36),fy(1533)),(fx(28),fy(1533))],
                       closed=True, transform=fig.transFigure, facecolor=LOGO, edgecolor="none"))
fig.add_artist(Polygon([(fx(27.5),fy(1518.5)),(fx(33),fy(1518.5)),(fx(33),fy(1524)),(fx(27.5),fy(1524))],
                       closed=True, transform=fig.transFigure, facecolor=LOGO, edgecolor="none"))
fig.text(fx(49), fy(1526), "TradingView", color=LOGO, fontsize=15, fontweight="bold", va="center", ha="left",
         family=["Liberation Sans"])

fig.savefig("out.png", dpi=100, facecolor=BG)
